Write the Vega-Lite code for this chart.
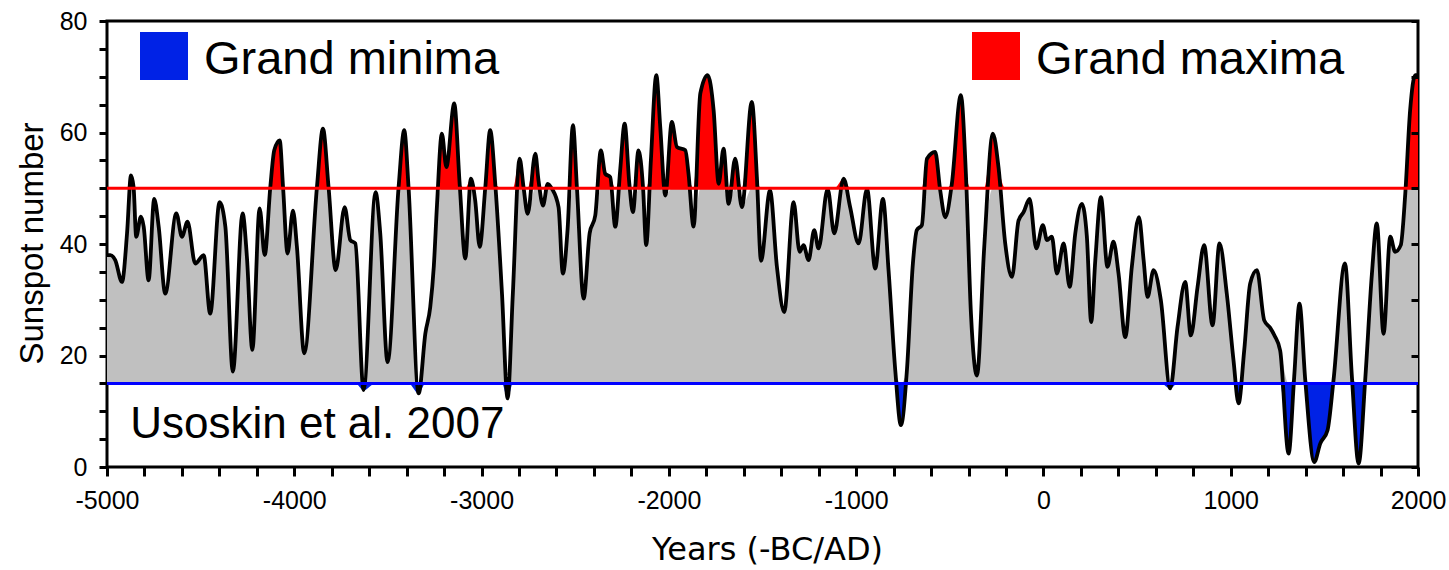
{
  "$schema": "https://vega.github.io/schema/vega-lite/v6.json",
  "width": 1311,
  "height": 446,
  "autosize": {"type": "none"},
  "padding": {"left": 107, "top": 21, "right": 31, "bottom": 103},
  "background": "white",
  "config": {
    "view": {"stroke": "#000", "strokeWidth": 3},
    "axis": {"grid": false, "domain": false, "labelFont": "Liberation Sans", "labelFontSize": 25, "labelColor": "#000", "tickColor": "#000", "tickWidth": 3, "titleColor": "#000", "titleFontWeight": "normal"}
  },
  "data": {"values": [
    {"year": -5000, "ssn": 38.0}, {"year": -4982, "ssn": 38.0}, {"year": -4956, "ssn": 37.1}, {"year": -4920, "ssn": 33.2},
    {"year": -4893, "ssn": 41.9}, {"year": -4872, "ssn": 52.3}, {"year": -4858, "ssn": 50.2}, {"year": -4844, "ssn": 41.3},
    {"year": -4819, "ssn": 44.9}, {"year": -4804, "ssn": 43.1}, {"year": -4778, "ssn": 33.5}, {"year": -4748, "ssn": 48.1},
    {"year": -4724, "ssn": 43.1}, {"year": -4689, "ssn": 31.1}, {"year": -4630, "ssn": 45.5}, {"year": -4600, "ssn": 41.3},
    {"year": -4570, "ssn": 44.0}, {"year": -4529, "ssn": 36.5}, {"year": -4484, "ssn": 38.0}, {"year": -4449, "ssn": 27.5},
    {"year": -4399, "ssn": 47.5}, {"year": -4368, "ssn": 43.1}, {"year": -4328, "ssn": 17.1}, {"year": -4276, "ssn": 45.5},
    {"year": -4253, "ssn": 37.7}, {"year": -4224, "ssn": 21.0}, {"year": -4185, "ssn": 46.4}, {"year": -4158, "ssn": 38.0},
    {"year": -4128, "ssn": 50.2}, {"year": -4107, "ssn": 56.8}, {"year": -4078, "ssn": 58.6}, {"year": -4060, "ssn": 50.2},
    {"year": -4036, "ssn": 38.3}, {"year": -4007, "ssn": 46.0}, {"year": -3986, "ssn": 39.5}, {"year": -3947, "ssn": 20.4},
    {"year": -3879, "ssn": 50.2}, {"year": -3847, "ssn": 60.7}, {"year": -3817, "ssn": 50.2}, {"year": -3779, "ssn": 35.3},
    {"year": -3731, "ssn": 46.6}, {"year": -3701, "ssn": 40.7}, {"year": -3674, "ssn": 40.1}, {"year": -3630, "ssn": 13.8},
    {"year": -3566, "ssn": 49.3}, {"year": -3541, "ssn": 41.9}, {"year": -3502, "ssn": 18.8}, {"year": -3443, "ssn": 50.2},
    {"year": -3413, "ssn": 60.4}, {"year": -3390, "ssn": 50.2}, {"year": -3336, "ssn": 13.2}, {"year": -3300, "ssn": 24.0},
    {"year": -3274, "ssn": 28.7}, {"year": -3255, "ssn": 36.0}, {"year": -3238, "ssn": 47.0}, {"year": -3212, "ssn": 59.8},
    {"year": -3188, "ssn": 53.8}, {"year": -3146, "ssn": 65.2}, {"year": -3117, "ssn": 50.8}, {"year": -3087, "ssn": 37.4},
    {"year": -3057, "ssn": 51.7}, {"year": -3034, "ssn": 47.8}, {"year": -3010, "ssn": 39.5}, {"year": -2980, "ssn": 50.2},
    {"year": -2954, "ssn": 60.4}, {"year": -2927, "ssn": 50.8}, {"year": -2891, "ssn": 31.1}, {"year": -2861, "ssn": 12.3},
    {"year": -2833, "ssn": 31.1}, {"year": -2797, "ssn": 55.3}, {"year": -2776, "ssn": 50.2}, {"year": -2754, "ssn": 45.4},
    {"year": -2713, "ssn": 56.2}, {"year": -2696, "ssn": 51.4}, {"year": -2672, "ssn": 46.9}, {"year": -2647, "ssn": 50.8},
    {"year": -2624, "ssn": 49.9}, {"year": -2589, "ssn": 46.6}, {"year": -2566, "ssn": 34.7}, {"year": -2541, "ssn": 42.5},
    {"year": -2512, "ssn": 61.3}, {"year": -2491, "ssn": 50.2}, {"year": -2455, "ssn": 30.2}, {"year": -2423, "ssn": 41.9},
    {"year": -2393, "ssn": 45.1}, {"year": -2363, "ssn": 56.8}, {"year": -2340, "ssn": 52.6}, {"year": -2313, "ssn": 52.0},
    {"year": -2286, "ssn": 43.1}, {"year": -2260, "ssn": 53.2}, {"year": -2236, "ssn": 61.6}, {"year": -2211, "ssn": 50.8},
    {"year": -2192, "ssn": 45.7}, {"year": -2162, "ssn": 56.8}, {"year": -2138, "ssn": 50.2}, {"year": -2121, "ssn": 39.8},
    {"year": -2096, "ssn": 55.0}, {"year": -2067, "ssn": 70.3}, {"year": -2046, "ssn": 61.0}, {"year": -2019, "ssn": 48.7},
    {"year": -1984, "ssn": 61.9}, {"year": -1957, "ssn": 57.4}, {"year": -1912, "ssn": 56.8}, {"year": -1895, "ssn": 52.6},
    {"year": -1868, "ssn": 43.1}, {"year": -1832, "ssn": 67.0}, {"year": -1793, "ssn": 70.3}, {"year": -1761, "ssn": 64.0},
    {"year": -1734, "ssn": 50.8}, {"year": -1708, "ssn": 57.1}, {"year": -1681, "ssn": 47.2}, {"year": -1646, "ssn": 55.3},
    {"year": -1610, "ssn": 46.6}, {"year": -1557, "ssn": 65.5}, {"year": -1530, "ssn": 52.0}, {"year": -1508, "ssn": 37.0},
    {"year": -1460, "ssn": 49.6}, {"year": -1423, "ssn": 35.9}, {"year": -1384, "ssn": 27.8}, {"year": -1334, "ssn": 47.5},
    {"year": -1302, "ssn": 38.6}, {"year": -1281, "ssn": 39.8}, {"year": -1254, "ssn": 37.1}, {"year": -1224, "ssn": 42.5},
    {"year": -1201, "ssn": 39.2}, {"year": -1152, "ssn": 49.9}, {"year": -1117, "ssn": 41.9}, {"year": -1067, "ssn": 51.7},
    {"year": -1032, "ssn": 46.6}, {"year": -987, "ssn": 40.1}, {"year": -942, "ssn": 49.9}, {"year": -898, "ssn": 35.6},
    {"year": -857, "ssn": 48.1}, {"year": -827, "ssn": 35.3}, {"year": -791, "ssn": 17.3}, {"year": -761, "ssn": 7.5},
    {"year": -729, "ssn": 17.3}, {"year": -697, "ssn": 36.5}, {"year": -676, "ssn": 42.5}, {"year": -649, "ssn": 43.4},
    {"year": -622, "ssn": 55.3}, {"year": -578, "ssn": 56.5}, {"year": -551, "ssn": 49.6}, {"year": -524, "ssn": 44.8},
    {"year": -489, "ssn": 50.8}, {"year": -441, "ssn": 66.7}, {"year": -414, "ssn": 52.6}, {"year": -387, "ssn": 27.5},
    {"year": -355, "ssn": 16.4}, {"year": -316, "ssn": 39.5}, {"year": -270, "ssn": 59.8}, {"year": -240, "ssn": 53.8},
    {"year": -204, "ssn": 40.1}, {"year": -168, "ssn": 34.1}, {"year": -133, "ssn": 44.2}, {"year": -106, "ssn": 45.7},
    {"year": -74, "ssn": 48.1}, {"year": -38, "ssn": 39.2}, {"year": -3, "ssn": 43.4}, {"year": 19, "ssn": 40.7},
    {"year": 45, "ssn": 41.3}, {"year": 72, "ssn": 34.7}, {"year": 108, "ssn": 40.1}, {"year": 140, "ssn": 32.3},
    {"year": 170, "ssn": 41.9}, {"year": 205, "ssn": 47.2}, {"year": 232, "ssn": 41.3}, {"year": 255, "ssn": 26.0},
    {"year": 277, "ssn": 37.1}, {"year": 307, "ssn": 48.4}, {"year": 342, "ssn": 35.9}, {"year": 374, "ssn": 40.4},
    {"year": 401, "ssn": 34.7}, {"year": 437, "ssn": 23.3}, {"year": 472, "ssn": 35.9}, {"year": 510, "ssn": 44.8},
    {"year": 535, "ssn": 37.1}, {"year": 556, "ssn": 30.5}, {"year": 588, "ssn": 35.3}, {"year": 627, "ssn": 29.9},
    {"year": 677, "ssn": 14.1}, {"year": 716, "ssn": 25.1}, {"year": 757, "ssn": 33.2}, {"year": 787, "ssn": 23.6},
    {"year": 823, "ssn": 32.3}, {"year": 858, "ssn": 39.8}, {"year": 903, "ssn": 25.4}, {"year": 940, "ssn": 40.1},
    {"year": 979, "ssn": 31.1}, {"year": 1015, "ssn": 19.1}, {"year": 1042, "ssn": 11.4}, {"year": 1072, "ssn": 20.9},
    {"year": 1104, "ssn": 32.9}, {"year": 1140, "ssn": 35.3}, {"year": 1179, "ssn": 26.3}, {"year": 1210, "ssn": 25.0},
    {"year": 1235, "ssn": 23.5}, {"year": 1264, "ssn": 20.9}, {"year": 1309, "ssn": 2.4}, {"year": 1339, "ssn": 16.2},
    {"year": 1367, "ssn": 29.3}, {"year": 1398, "ssn": 15.6}, {"year": 1446, "ssn": 0.9}, {"year": 1478, "ssn": 4.2},
    {"year": 1517, "ssn": 6.6}, {"year": 1549, "ssn": 15.6}, {"year": 1610, "ssn": 36.5}, {"year": 1647, "ssn": 16.2},
    {"year": 1683, "ssn": 0.6}, {"year": 1718, "ssn": 15.6}, {"year": 1754, "ssn": 34.7}, {"year": 1780, "ssn": 43.7},
    {"year": 1816, "ssn": 23.9}, {"year": 1852, "ssn": 41.3}, {"year": 1878, "ssn": 38.6}, {"year": 1908, "ssn": 39.8},
    {"year": 1932, "ssn": 49.0}, {"year": 1958, "ssn": 64.0}, {"year": 1985, "ssn": 70.3}, {"year": 2000, "ssn": 70.3}
  ]},
  "layer": [
    {
      "encoding": {
        "x": {"field": "year", "type": "quantitative", "scale": {"domain": [-5000, 2000], "nice": false, "zero": false},
          "axis": {"values": [-5000,-4800,-4600,-4400,-4200,-4000,-3800,-3600,-3400,-3200,-3000,-2800,-2600,-2400,-2200,-2000,-1800,-1600,-1400,-1200,-1000,-800,-600,-400,-200,0,200,400,600,800,1000,1200,1400,1600,1800,2000],
            "labelExpr": "datum.value % 1000 === 0 ? '' + datum.value : ''", "tickSize": 9, "labelPadding": 12, "labelFlush": false, "labelOverlap": false,
            "title": "Years (-BC/AD)", "titleFont": "DejaVu Sans", "titleFontSize": 32, "titleX": 660, "titleY": 92, "titleAlign": "center", "titleBaseline": "alphabetic"}}
      },
      "layer": [
        {
          "mark": {"type": "area", "color": "#C0C0C0", "interpolate": "monotone"},
          "encoding": {
            "y": {"field": "ssn", "type": "quantitative", "scale": {"domain": [15, 50], "range": [362.375, 167.25], "clamp": true, "nice": false, "zero": false}, "axis": null},
            "y2": {"datum": 15}
          }
        },
        {
          "mark": {"type": "area", "interpolate": "monotone"},
          "encoding": {
            "y": {"field": "ssn", "type": "quantitative", "scale": {"domain": [50, 80], "range": [167.25, 0], "clamp": true, "nice": false, "zero": false}, "axis": null},
            "y2": {"datum": 50},
            "color": {"datum": "Grand maxima", "type": "nominal",
              "scale": {"domain": ["Grand minima", "Grand maxima"], "range": ["#0022E6", "#FF0000"]},
              "legend": {"orient": "none", "legendX": 33, "legendY": 11, "direction": "horizontal", "title": null,
                "symbolType": "square", "symbolSize": 2304, "symbolStrokeWidth": 0, "symbolOpacity": 1,
                "labelFont": "Liberation Sans", "labelFontSize": 47, "labelColor": "#000", "labelOffset": 16, "labelLimit": 0,
                "columnPadding": 472, "padding": 0,
                "encode": {"labels": {"update": {"dy": {"value": 4}}}}}}
          }
        },
        {
          "mark": {"type": "area", "interpolate": "monotone"},
          "encoding": {
            "y": {"field": "ssn", "type": "quantitative", "scale": {"domain": [0, 15], "range": [446, 362.375], "clamp": true, "nice": false, "zero": false}, "axis": null},
            "y2": {"datum": 15},
            "color": {"datum": "Grand minima", "type": "nominal"}
          }
        },
        {
          "mark": {"type": "line", "color": "#000", "strokeWidth": 3.8, "interpolate": "monotone"},
          "encoding": {
            "y": {"field": "ssn", "type": "quantitative", "scale": {"domain": [0, 80], "nice": false, "zero": true},
              "axis": {"orient": "left", "values": [0,5,10,15,20,25,30,35,40,45,50,55,60,65,70,75,80],
                "labelExpr": "datum.value % 20 === 0 ? '' + datum.value : ''", "tickSize": 8, "labelPadding": 12, "labelFlush": false, "labelOverlap": false,
                "title": "Sunspot number", "titleFont": "Liberation Sans", "titleFontSize": 33, "titleAngle": -90, "titleX": -65, "titleY": 222, "titleAlign": "center", "titleBaseline": "alphabetic"}}
          }
        }
      ],
      "resolve": {"scale": {"y": "independent"}, "axis": {"y": "independent"}}
    },
    {
      "transform": [{"filter": "datum.year === 2000"}],
      "layer": [
        {
          "mark": {"type": "rule", "color": "#FF0000", "strokeWidth": 3},
          "encoding": {
            "y": {"datum": 50, "type": "quantitative", "scale": {"domain": [0, 80], "nice": false, "zero": true},
              "axis": {"orient": "right", "values": [0,5,10,15,20,25,30,35,40,45,50,55,60,65,70,75,80], "labels": false, "tickSize": -7, "title": null, "zindex": 1}}
          }
        },
        {
          "mark": {"type": "rule", "color": "#0000FF", "strokeWidth": 3},
          "encoding": {"y": {"datum": 15, "type": "quantitative"}}
        },
        {
          "mark": {"type": "text", "text": "Usoskin et al. 2007", "font": "Liberation Sans", "fontSize": 44, "align": "left", "baseline": "alphabetic", "color": "#000"},
          "encoding": {
            "x": {"datum": -4876, "type": "quantitative",
              "axis": {"values": [-5000,-4800,-4600,-4400,-4200,-4000,-3800,-3600,-3400,-3200,-3000,-2800,-2600,-2400,-2200,-2000,-1800,-1600,-1400,-1200,-1000,-800,-600,-400,-200,0,200,400,600,800,1000,1200,1400,1600,1800,2000],
                "labelExpr": "datum.value % 1000 === 0 ? '' + datum.value : ''", "tickSize": 9, "labelPadding": 12, "labelFlush": false, "labelOverlap": false,
                "title": "Years (-BC/AD)", "titleFont": "DejaVu Sans", "titleFontSize": 32, "titleX": 660, "titleY": 92, "titleAlign": "center", "titleBaseline": "alphabetic"}},
            "y": {"datum": 5.15, "type": "quantitative"}
          }
        }
      ]
    }
  ],
  "resolve": {"scale": {"y": "independent"}, "axis": {"y": "independent"}}
}
